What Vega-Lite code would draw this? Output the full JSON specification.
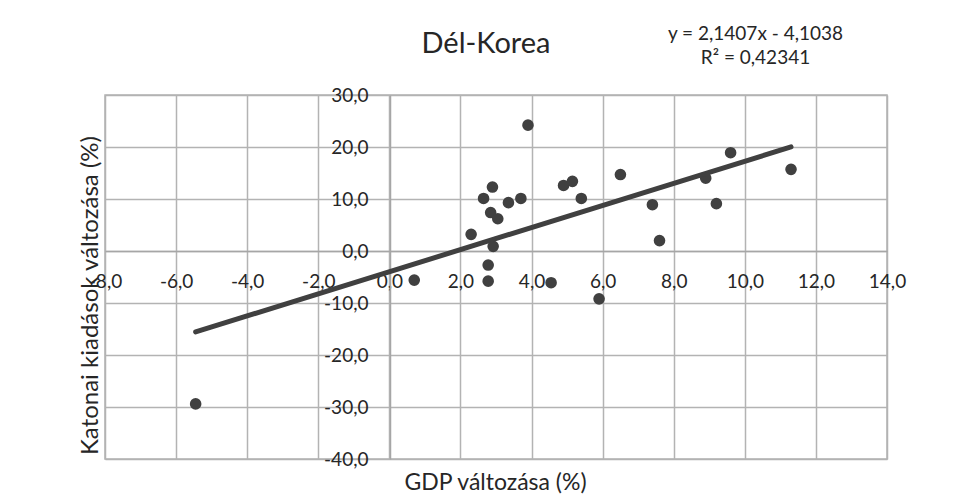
{
  "$schema": "https://vega.github.io/schema/vega-lite/v6.json",
  "width": 782,
  "height": 364,
  "autosize": "none",
  "padding": {"left": 105, "top": 95, "right": 75, "bottom": 40},
  "background": "white",
  "title": {"text": "Dél-Korea", "font": "Lato", "fontSize": 29, "fontWeight": "normal", "color": "#262626", "anchor": "middle", "dx": -10, "offset": -34},
  "config": {
    "font": "Lato",
    "view": {"stroke": "#b3b3b3", "strokeWidth": 1.5}
  },
  "datasets": {
    "pts": [
      {"gdp": -5.45, "katonai": -29.4},
      {"gdp": 0.7, "katonai": -5.6},
      {"gdp": 2.3, "katonai": 3.2},
      {"gdp": 2.65, "katonai": 10.1},
      {"gdp": 2.78, "katonai": -2.7},
      {"gdp": 2.78, "katonai": -5.8},
      {"gdp": 2.9, "katonai": 12.3},
      {"gdp": 2.85, "katonai": 7.4},
      {"gdp": 2.92, "katonai": 0.9},
      {"gdp": 3.05, "katonai": 6.2},
      {"gdp": 3.35, "katonai": 9.3},
      {"gdp": 3.7, "katonai": 10.1},
      {"gdp": 3.9, "katonai": 24.2},
      {"gdp": 4.55, "katonai": -6.1},
      {"gdp": 4.9, "katonai": 12.6},
      {"gdp": 5.15, "katonai": 13.4},
      {"gdp": 5.4, "katonai": 10.1},
      {"gdp": 5.9, "katonai": -9.2},
      {"gdp": 6.5, "katonai": 14.7},
      {"gdp": 7.4, "katonai": 8.9},
      {"gdp": 7.6, "katonai": 2.0},
      {"gdp": 8.9, "katonai": 14.0},
      {"gdp": 9.2, "katonai": 9.1},
      {"gdp": 9.6, "katonai": 18.9},
      {"gdp": 11.3, "katonai": 15.7}
    ]
  },
  "resolve": {"axis": {"x": "independent", "y": "independent"}},
  "layer": [
    {
      "data": {"name": "pts"},
      "mark": {"type": "point", "filled": true, "color": "#404040", "opacity": 1, "size": 135, "shape": "circle"},
      "encoding": {
        "x": {"field": "gdp", "type": "quantitative", "scale": {"domain": [-8, 14], "nice": false, "zero": false},
          "axis": {"values": [-8, -6, -4, -2, 0, 2, 4, 6, 8, 10, 12, 14], "grid": true, "gridColor": "#b3b3b3", "gridWidth": 1.5, "labels": false, "ticks": false, "domain": false, "title": null}},
        "y": {"field": "katonai", "type": "quantitative", "scale": {"domain": [-40, 30], "nice": false, "zero": false},
          "axis": {"values": [-40, -30, -20, -10, 0, 10, 20, 30], "grid": true, "gridColor": "#b3b3b3", "gridWidth": 1.5, "labels": false, "ticks": false, "domain": false, "title": null}}
      }
    },
    {
      "data": {"name": "pts"},
      "transform": [{"regression": "katonai", "on": "gdp"}],
      "mark": {"type": "line", "color": "#404040", "strokeWidth": 5, "strokeCap": "round"},
      "encoding": {
        "x": {"field": "gdp", "type": "quantitative",
          "axis": {"orient": "bottom", "offset": -208, "values": [-8, -6, -4, -2, 0, 2, 4, 6, 8, 10, 12, 14], "grid": false, "ticks": false, "domain": true, "domainColor": "#a6a6a6", "domainWidth": 1.5,
            "labelExpr": "replace(replace(format(datum.value, '.1f'), '.', ','), '\u2212', '-')",
            "labelFont": "Lato", "labelFontSize": 19, "labelColor": "#262626", "labelPadding": 21, "labelOverlap": false, "labelFlush": false, "labelBound": false,
            "title": "GDP változása (%)", "titleFont": "Lato", "titleFontSize": 23, "titleFontWeight": "normal", "titleColor": "#262626", "titleX": 390, "titleY": 231, "titleBaseline": "middle", "titleAlign": "center"}},
        "y": {"field": "katonai", "type": "quantitative",
          "axis": {"orient": "left", "offset": -285, "values": [-40, -30, -20, -10, 0, 10, 20, 30], "grid": false, "ticks": false, "domain": true, "domainColor": "#a6a6a6", "domainWidth": 1.5,
            "labelExpr": "replace(replace(format(datum.value, '.1f'), '.', ','), '\u2212', '-')",
            "labelFont": "Lato", "labelFontSize": 19, "labelColor": "#262626", "labelPadding": 22, "labelOverlap": false, "labelFlush": false, "labelBound": false,
            "title": "Katonai kiadások változása (%)", "titleFont": "Lato", "titleFontSize": 24, "titleFontWeight": "normal", "titleColor": "#262626", "titleX": -300, "titleY": 200, "titleAngle": -90, "titleBaseline": "middle", "titleAlign": "center"}}
      }
    },
    {
      "data": {"values": [{"t": "y = 2,1407x - 4,1038\nR² = 0,42341"}]},
      "mark": {"type": "text", "font": "Lato", "fontSize": 19, "color": "#262626", "align": "center", "baseline": "middle", "lineBreak": "\n", "lineHeight": 24, "clip": false},
      "encoding": {
        "x": {"datum": 10.3, "type": "quantitative", "axis": null},
        "y": {"datum": 41.7, "type": "quantitative", "axis": null},
        "text": {"field": "t"}
      }
    }
  ]
}
